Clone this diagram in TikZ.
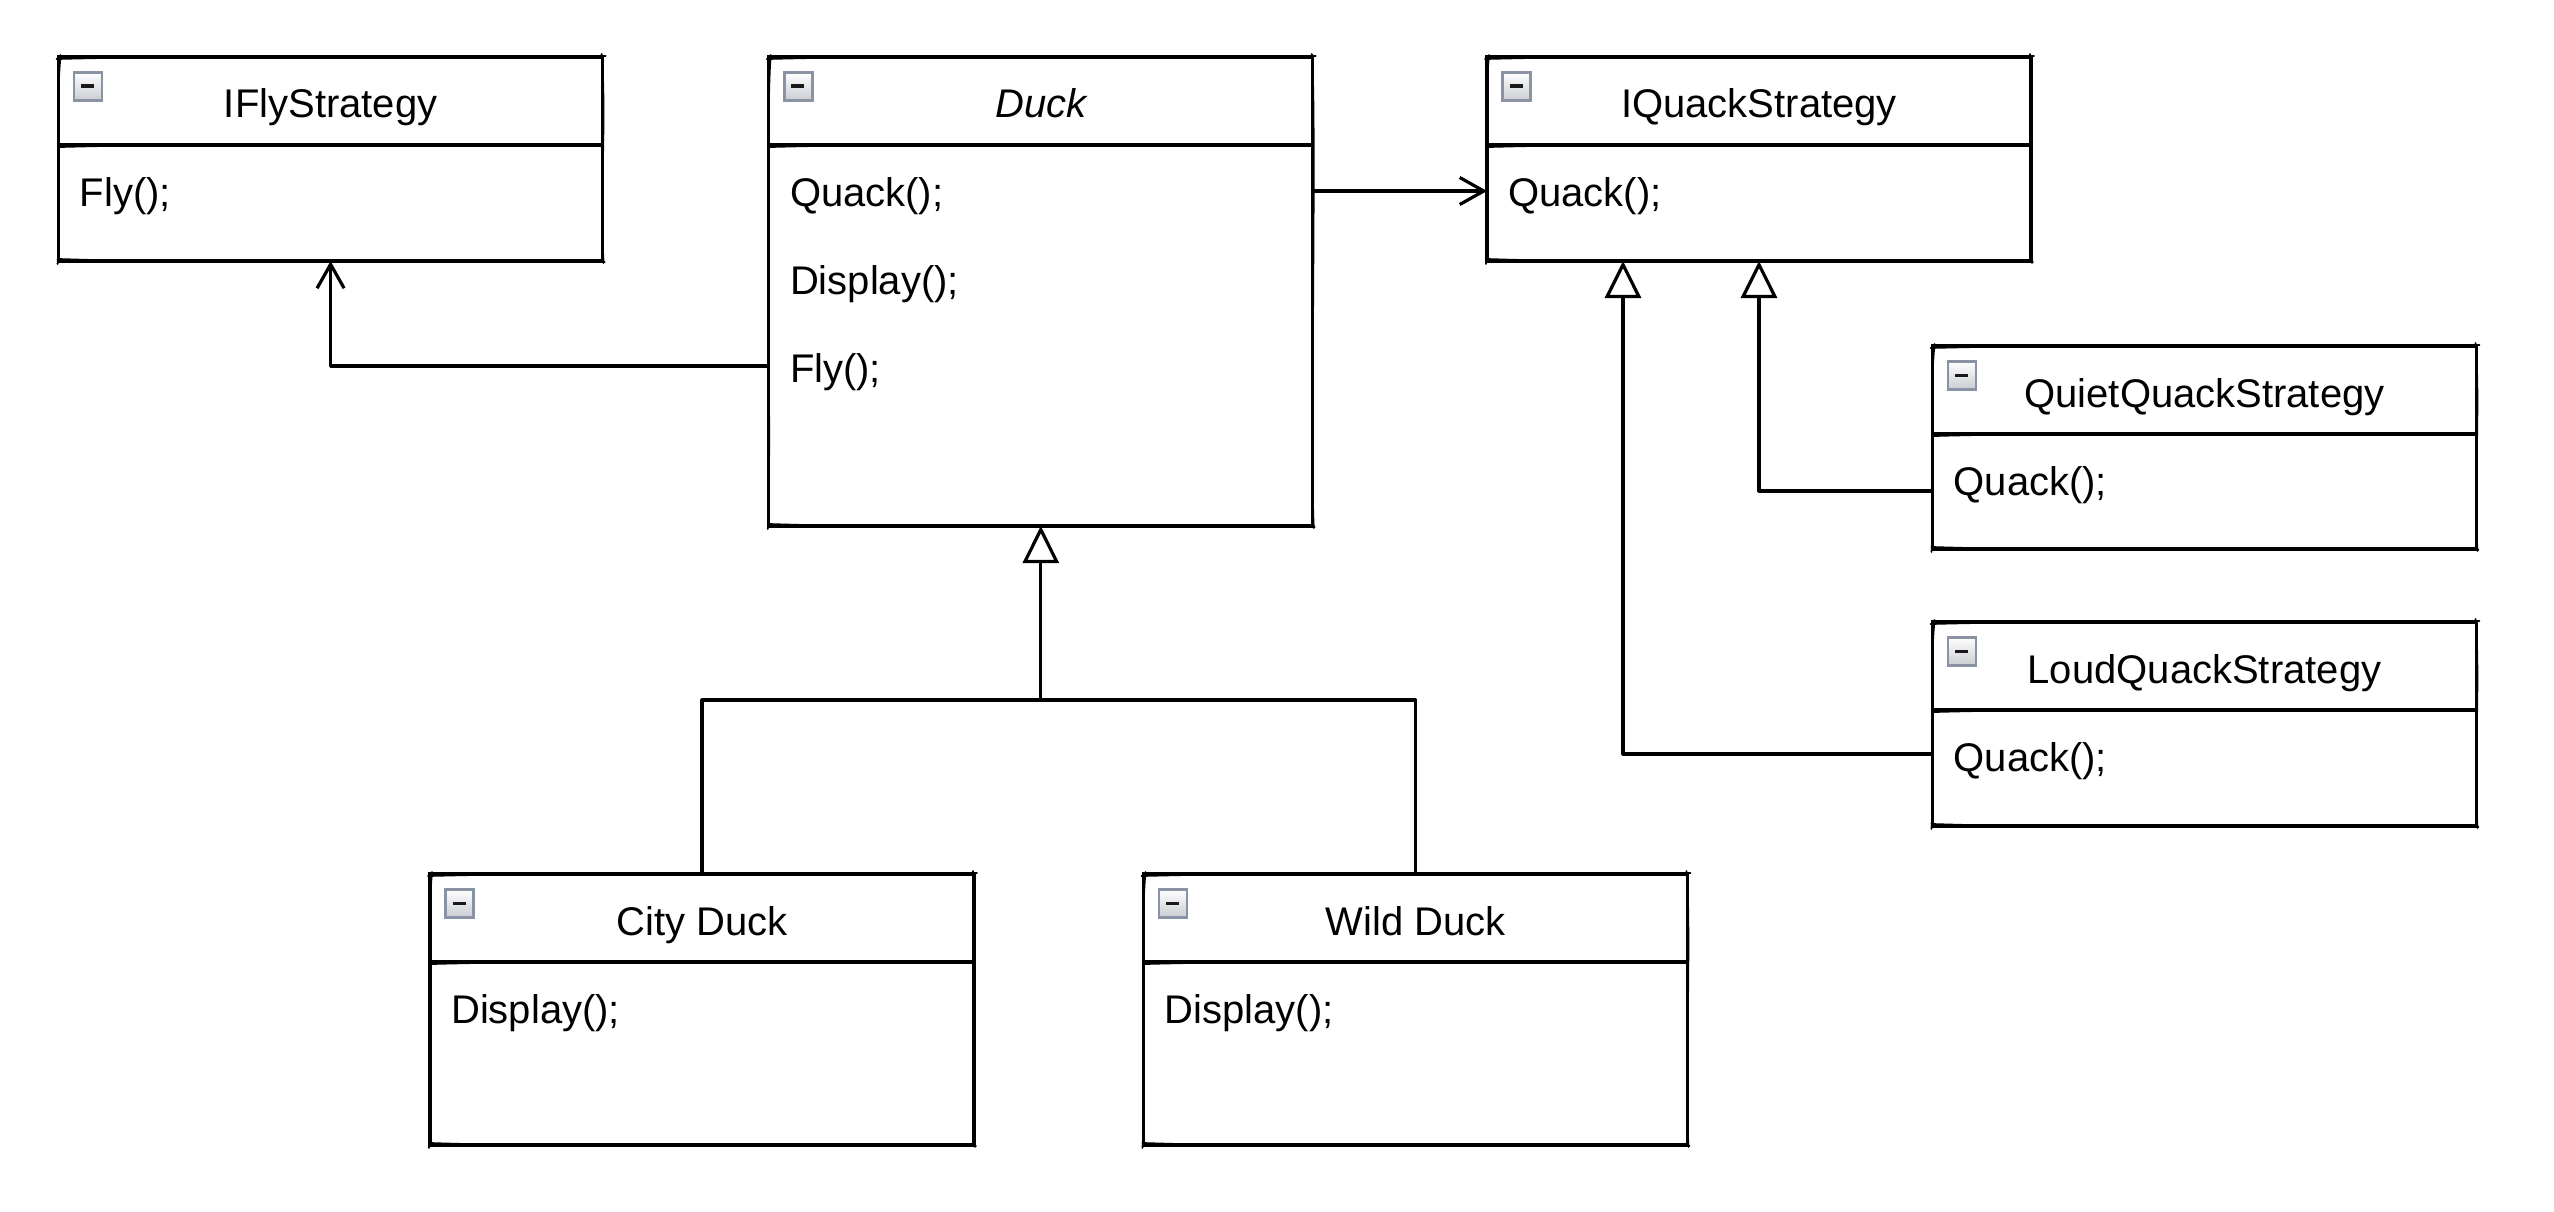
\documentclass[tikz,border=0pt]{standalone}
\usepackage{fontspec}
\setmainfont{Liberation Sans}
\usetikzlibrary{arrows.meta,calc}
\definecolor{icb}{HTML}{8A93A3}
\definecolor{icf}{HTML}{C9CCD2}
\tikzset{
  cls/.style={draw, line width=3.2pt, minimum width=544pt, inner sep=0pt, outer sep=0pt, anchor=north west, fill=white},
  ln/.style={line width=3.2pt},
  sk/.style={line width=1.8pt, line cap=round},
  ttl/.style={font=\fontsize{40}{46}\selectfont, anchor=base, inner sep=0pt},
  mth/.style={font=\fontsize{40}{46}\selectfont, anchor=base west, inner sep=0pt},
  conn/.style={line width=3.2pt, line join=round},
  assoc/.style={conn, -{Straight Barb[length=24pt,width=27pt,line width=3.2pt]}},
  inh/.style={conn, -{Triangle[open,length=37pt,width=36pt,line width=3.2pt]}},
}
\newcommand{\umlclass}[6]{%
  \node[cls, minimum height=#4pt] (#1) at (#2,#3) {};
  \draw[ln] ($(#1.north west)+(0,88)$) -- ($(#1.north east)+(0,88)$);
  \draw[sk] ($(#1.north west)+(-2,2)$) .. controls ($(#1.north west)+(180,-3)$) and ($(#1.north east)+(-180,4)$) .. ($(#1.north east)+(3,-1)$);
  \draw[sk] ($(#1.south west)+(-1,-2)$) .. controls ($(#1.south west)+(180,4)$) and ($(#1.south east)+(-180,-3)$) .. ($(#1.south east)+(2,1)$);
  \draw[sk] ($(#1.north west)+(2,-2)$) .. controls ($(#1.north west)+(-4,60)$) and ($(#1.south west)+(3,-60)$) .. ($(#1.south west)+(-1,3)$);
  \draw[sk] ($(#1.north east)+(-1,-3)$) .. controls ($(#1.north east)+(4,60)$) and ($(#1.south east)+(-3,-60)$) .. ($(#1.south east)+(1,2)$);
  \draw[sk] ($(#1.north west)+(1,90)$) .. controls ($(#1.north west)+(180,85)$) and ($(#1.north east)+(-180,91)$) .. ($(#1.north east)+(-1,87)$);
  \shade[top color=white, bottom color=icf, draw=icb, line width=2.6pt] ($(#1.north west)+(15.5,15.5)$) rectangle ++(28,28);
  \fill[black!90] ($(#1.north west)+(22.5,27.5)$) rectangle ++(13,3.6);
  \node[ttl] (#1-t) at ($(#1.north)+(0,61)$) {#5};
  \foreach \m [count=\i] in {#6} {\node[mth] (#1-m\i) at ($(#1.north west)+(21,{61+88*\i})$) {\m};}
}
\begin{document}
\begin{tikzpicture}[x=1pt,y=-1pt]
\useasboundingbox[fill=white] (0,0) rectangle (2554,1212);
\umlclass{ifly}{58.6}{57}{204}{IFlyStrategy}{Fly();}
\umlclass{duck}{768.8}{57}{469}{\itshape Duck}{Quack();,Display();,Fly();}
\umlclass{iquack}{1487}{57}{204}{IQuackStrategy}{Quack();}
\umlclass{quiet}{1932.5}{346}{203}{QuietQuackStrategy}{Quack();}
\umlclass{loud}{1932.5}{622}{204}{LoudQuackStrategy}{Quack();}
\umlclass{city}{430}{874}{271}{City Duck}{Display();}
\umlclass{wild}{1143.5}{874}{271}{Wild Duck}{Display();}
\coordinate (dfly) at ($(duck.north west)+(0,309)$);
\draw[assoc] (dfly) -| (ifly.south);
\draw[assoc] ($(duck.north east)+(0,134)$) -- ($(iquack.north west)+(0,134)$);
\coordinate (junc) at ($(duck.south)+(0,174)$);
\draw[inh] (junc) -- (duck.south);
\draw[conn] (city.north) |- (junc) -| (wild.north);
\draw[inh] ($(quiet.north west)+(0,145)$) -| (iquack.south);
\draw[inh] ($(loud.north west)+(0,132)$) -| ($(iquack.south west)!0.25!(iquack.south east)$);
\end{tikzpicture}
\end{document}
